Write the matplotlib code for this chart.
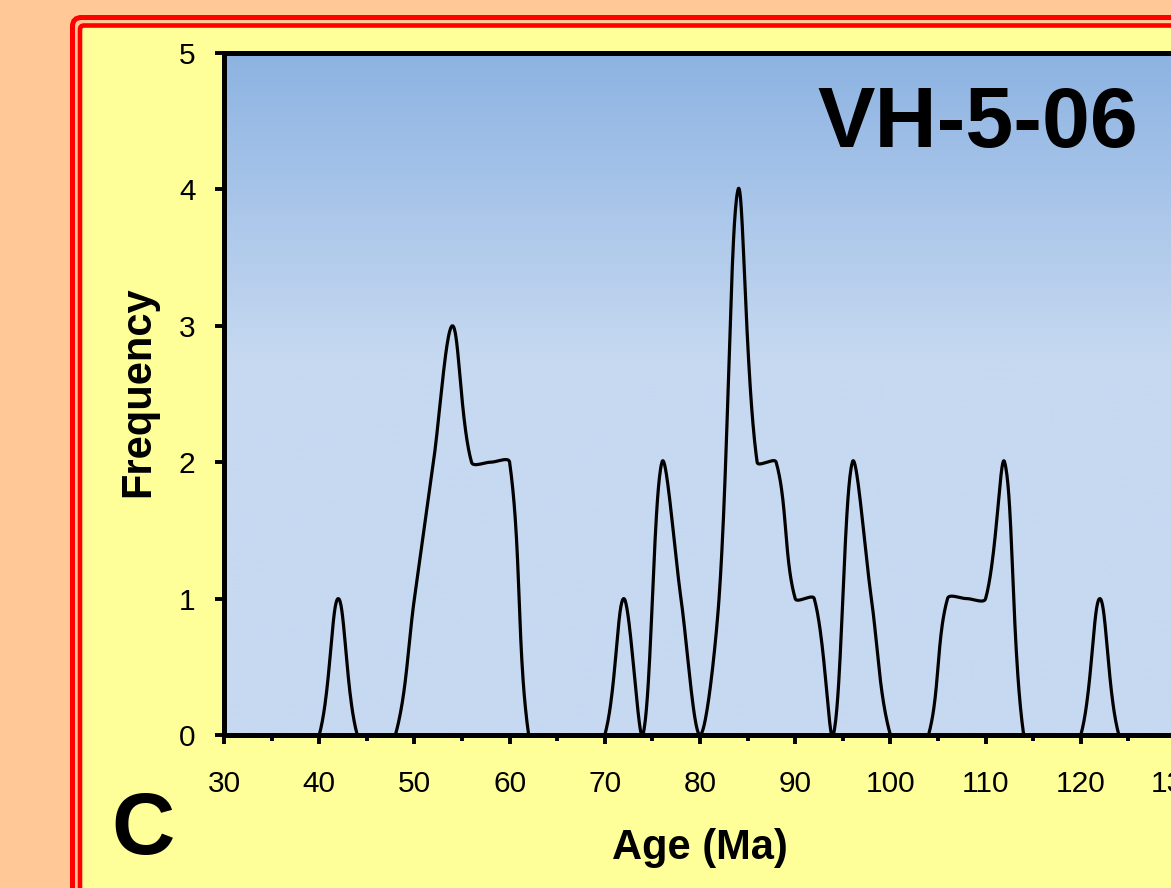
import matplotlib.pyplot as plt
import numpy as np
from matplotlib.colors import LinearSegmentedColormap
from matplotlib.patches import FancyBboxPatch
from matplotlib.transforms import IdentityTransform

# data (frequency at every 2 Ma)
ages = list(range(30, 142, 2))
freq = [0, 0, 0, 0, 0, 0, 1, 0, 0, 0,   # 30-48
        1, 2, 3, 2, 2, 2, 0, 0, 0, 0,   # 50-68
        0, 1, 0, 2, 1, 0, 1, 4, 2, 2,   # 70-88
        1, 1, 0, 2, 1, 0, 0, 0, 1, 1,   # 90-108
        1, 2, 0, 0, 0, 0, 1, 0, 0, 0,   # 110-128
        0, 0, 0, 0, 0, 0]               # 130-140
sample = "VH-5-06"
panel = "C"
x_ticks = [30, 40, 50, 60, 70, 80, 90, 100, 110, 120, 130, 140, 150]
x_labels = ["30", "40", "50", "60", "70", "80", "90", "100", "110", "120",
            "130", "", ""]
y_ticks = [0, 1, 2, 3, 4, 5]

W, H = 1171, 888
PEACH = "#FFC896"
YELLOW = "#FFFF99"
RED = "#FF0000"

x0, x1 = 30, 150
px_per_ma = 9.52
left, top, bottom = 224, 53, 735
px_per_unit = (bottom - top) / 5


def smooth(x, y, sx, sy, n=40):
    # spreadsheet-style smoothed line: Bezier segments whose control points
    # follow the neighbours, weighted by segment length in screen space
    p = np.column_stack([np.asarray(x, float) * sx, np.asarray(y, float) * sy])
    pp = np.vstack([p[0], p, p[-1]])
    seg = np.linalg.norm(np.diff(pp, axis=0), axis=1)
    t = np.linspace(0, 1, n)[:, None]
    out = []
    for i in range(len(p) - 1):
        a, b = pp[i + 1], pp[i + 2]
        d1 = pp[i + 2] - pp[i]
        d2 = pp[i + 3] - pp[i + 1]
        L0, L1, L2 = seg[i], seg[i + 1], seg[i + 2]
        c1 = a + d1 * L1 / (3 * (L0 + L1)) if L0 + L1 > 0 else a
        c2 = b - d2 * L1 / (3 * (L1 + L2)) if L1 + L2 > 0 else b
        out.append((1 - t)**3 * a + 3 * (1 - t)**2 * t * c1
                   + 3 * (1 - t) * t**2 * c2 + t**3 * b)
    out = np.vstack(out)
    return out[:, 0] / sx, out[:, 1] / sy


plt.rcParams['font.family'] = ['Liberation Sans', 'DejaVu Sans']

fig = plt.figure(figsize=(W / 100, H / 100), dpi=100, facecolor=PEACH)

# double red frame and yellow panel (pixel coords, origin bottom-left)
outer = FancyBboxPatch((72.5, -100), 1400, H - 17.5 + 100,
                       boxstyle="round,pad=0,rounding_size=9",
                       transform=IdentityTransform(), facecolor="none",
                       edgecolor=RED, linewidth=3.6, zorder=-1)
inner = FancyBboxPatch((80, -100), 1400, H - 25.5 + 100,
                       boxstyle="round,pad=0,rounding_size=4",
                       transform=IdentityTransform(), facecolor=YELLOW,
                       edgecolor=RED, linewidth=3.3, zorder=-2)
fig.patches.extend([inner, outer])

# plot area
ax = fig.add_axes([left / W, 1 - bottom / H,
                   (x1 - x0) * px_per_ma / W, (bottom - top) / H])
ax.set_zorder(2)
ax.set_xlim(x0, x1)
ax.set_ylim(0, 5)

grad = LinearSegmentedColormap.from_list(
    "bg", [(0, "#C6D9F1"), (0.55, "#C6D9F1"), (1, "#8DB3E2")])
ax.imshow(np.linspace(1, 0, 256).reshape(-1, 1), cmap=grad, aspect='auto',
          extent=[0, 1, 0, 1], transform=ax.transAxes, zorder=0)

cx, cy = smooth(ages, freq, px_per_ma, px_per_unit)
ax.plot(cx, cy, color="black", linewidth=2.3, zorder=2, solid_capstyle='round')

for s in ax.spines.values():
    s.set_linewidth(3.6)
    s.set_zorder(3)

ax.set_xticks(x_ticks)
ax.set_xticklabels(x_labels)
ax.set_xticks(np.arange(35, 151, 10), minor=True)
ax.set_yticks(y_ticks)
ax.tick_params(axis='x', which='major', direction='out', length=6.5, width=2.8,
               pad=19, labelsize=21.5)
ax.tick_params(axis='x', which='minor', direction='out', length=4.3, width=2.8)
ax.tick_params(axis='y', which='major', direction='out', length=6.5, width=2.8,
               pad=14, labelsize=21.5)

fig.text(700 / W, 1 - 848 / H, "Age (Ma)", fontsize=30, fontweight='bold',
         ha='center', va='center')
fig.text(138 / W, 1 - 392 / H, "Frequency", fontsize=30, fontweight='bold',
         ha='center', va='center', rotation=90)
ax.text(1138 / W, 1 - 125 / H, sample, fontsize=62, fontweight='bold',
        ha='right', va='center', zorder=5, transform=fig.transFigure)
fig.text(143 / W, 1 - 831 / H, panel, fontsize=63, fontweight='bold',
         ha='center', va='center')

fig.savefig("out.png", dpi=100, facecolor=PEACH)
